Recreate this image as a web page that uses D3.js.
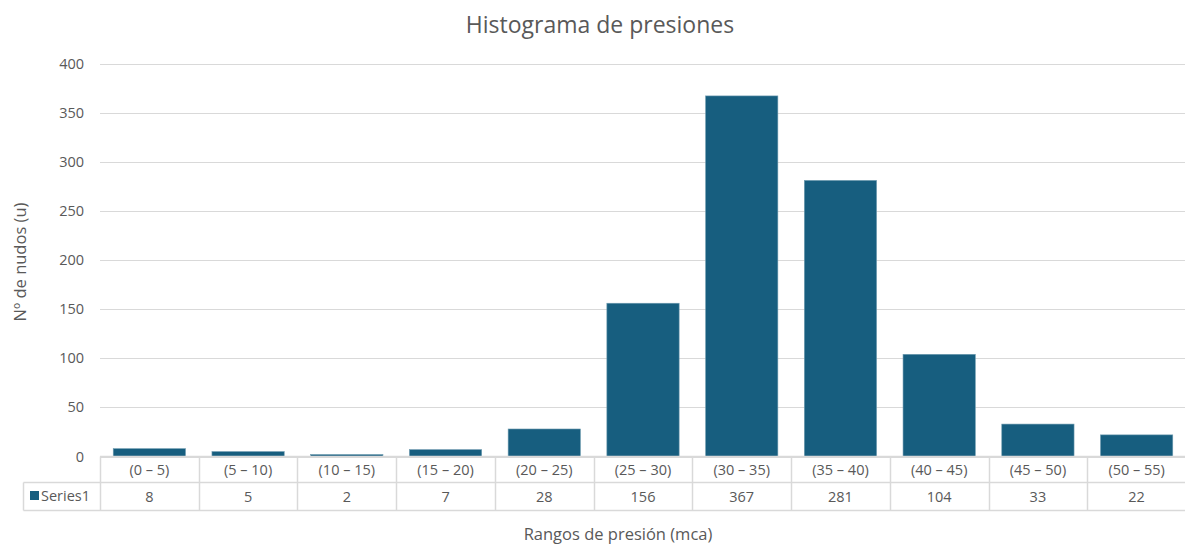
<!DOCTYPE html>
<html><head><meta charset="utf-8">
<script src="https://cdn.jsdelivr.net/npm/d3@7"></script>
<style>
body{margin:0;background:#fff;}
text{font-family:"Open Sans","Liberation Sans",sans-serif;fill:#595959;}
</style></head>
<body><svg id="c" width="1185" height="544"></svg>
<script>
const categories=["(0 – 5)","(5 – 10)","(10 – 15)","(15 – 20)","(20 – 25)","(25 – 30)","(30 – 35)","(35 – 40)","(40 – 45)","(45 – 50)","(50 – 55)"];
const values=[8,5,2,7,28,156,367,281,104,33,22];
const yTicks=[0,50,100,150,200,250,300,350,400];
const seriesName="Series1";
const title="Histograma de presiones";
const xTitle="Rangos de presión (mca)";
const yTitle="Nº de nudos (u)";

const svg=d3.select("#c");
const L=100,R=1186,T=63.5,B=456.5;
const color="#175e7f";
const grid="#d9d9d9";

const x=d3.scaleBand().domain(categories).range([L,R]).paddingInner(0.268).paddingOuter(0.134);
const xc=d3.scaleBand().domain(categories).range([L,R]);
const y=d3.scaleLinear().domain([0,400]).range([B,T]);

svg.append("text").attr("x",600).attr("y",33).attr("text-anchor","middle").style("font-size","23px").text(title);

// gridlines
svg.append("g").selectAll("line").data(yTicks).join("line")
 .attr("x1",L).attr("x2",R).attr("y1",d=>Math.round(y(d))+0.5).attr("y2",d=>Math.round(y(d))+0.5)
 .attr("stroke",grid).attr("stroke-width",1);
svg.append("g").selectAll("text").data(yTicks).join("text")
 .attr("x",84).attr("y",d=>y(d)+5).attr("text-anchor","end").style("font-size","14.5px").text(d=>d);

// bars
svg.append("g").selectAll("rect").data(values).join("rect")
 .attr("x",(d,i)=>x(categories[i])).attr("width",x.bandwidth())
 .attr("y",d=>y(d)).attr("height",d=>B-y(d))
 .attr("fill",color).attr("stroke","#6f9bb0").attr("stroke-width",0.6);

// data table
const r1=456.5,r2=482.5,r3=510.5,tl=23.5;
const tg=svg.append("g");
const line=(x1,y1,x2,y2)=>tg.append("line").attr("x1",x1).attr("y1",y1).attr("x2",x2).attr("y2",y2).attr("stroke",grid).attr("stroke-width",1.5);
line(L,r1,R,r1);
line(tl,r2,R,r2);
line(tl,r3,R,r3);
line(tl,r2,tl,r3);
const bounds=categories.map(c=>xc(c)).concat([R]);
bounds.forEach(b=>line(Math.round(b)+0.5,r1,Math.round(b)+0.5,r3));
tg.selectAll("text.cat").data(categories).join("text").attr("class","cat")
 .attr("x",c=>xc(c)+xc.bandwidth()/2).attr("y",474.5).attr("text-anchor","middle").style("font-size","14.5px").text(c=>c);
tg.selectAll("text.val").data(values).join("text").attr("class","val")
 .attr("x",(d,i)=>xc(categories[i])+xc.bandwidth()/2).attr("y",502).attr("text-anchor","middle").style("font-size","14.5px").text(d=>d);
tg.append("rect").attr("x",30).attr("y",491).attr("width",9).attr("height",9).attr("fill",color);
tg.append("text").attr("x",41).attr("y",501).style("font-size","14.5px").text(seriesName);

svg.append("text").attr("x",618).attr("y",540).attr("text-anchor","middle").style("font-size","16.5px").text(xTitle);
svg.append("text").attr("transform","translate(26,262) rotate(-90)").attr("text-anchor","middle").style("font-size","16.5px").text(yTitle);
</script></body></html>
